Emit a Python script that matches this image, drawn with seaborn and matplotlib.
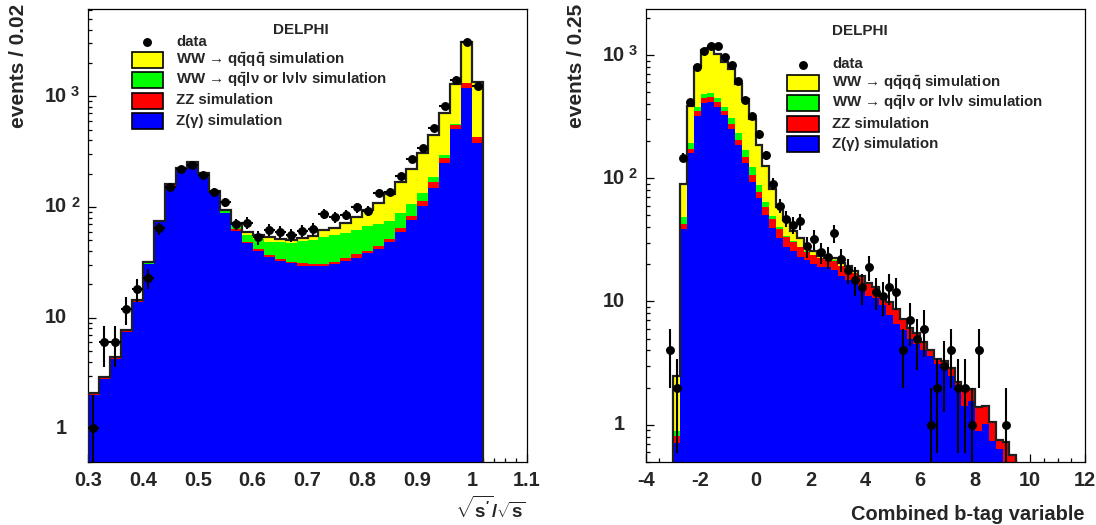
import numpy as np
import pandas as pd
import matplotlib
matplotlib.use("Agg")
import matplotlib.pyplot as plt
import matplotlib.transforms as mtransforms
from matplotlib.patches import Rectangle
from matplotlib.lines import Line2D
from matplotlib.ticker import MultipleLocator, FixedLocator, LogLocator, NullFormatter, FuncFormatter
import seaborn as sns

# ------------------------------------------------------------------
# Left panel: sqrt(s')/sqrt(s), bins of 0.02 starting at 0.30
# ------------------------------------------------------------------
left_start, left_width = 0.30, 0.02
left_data = [1, 6, 6, 12, 18, 23, 64, 152, 221, 240, 194, 137, 110, 70, 72, 53, 62, 60,
             56, 61, 63, 87, 81, 85, 99, 92, 134, 137, 190, 270, 343, 515, 818, 1400, 3070, 1245]
# upper edge of each stacked layer
left_top_zgamma = [2.0, 2.8, 4.25, 7.4, 13.8, 30.5, 73, 156, 219, 248, 197, 134, 87.5, 61, 47.5, 40,
                   35.5, 32.7, 30.9, 29.4, 29.4, 29.5, 30.3, 32.7, 34.8, 38.1, 41.7, 47.9, 59.7, 76.2,
                   102, 148, 248, 502, 1194, 380]
left_top_zz = [2.05, 2.84, 4.3, 7.5, 14.0, 30.8, 73.5, 157, 220, 249, 198, 135, 88.5, 62.7, 48.5, 41.5,
               36.8, 34.0, 32.0, 30.9, 30.3, 30.5, 31.5, 34.3, 37.3, 40.0, 44.6, 51, 64.1, 83.3,
               113, 167, 277, 550, 1325, 431]
left_top_ww_semi = [2.08, 2.87, 4.35, 7.6, 14.2, 31.2, 74, 158, 221, 250, 200, 138, 92, 71, 55.7, 51.5,
                    48.5, 47.9, 47.5, 49.0, 50.5, 53.5, 55.7, 57.8, 61.8, 67.2, 70.1, 75.1, 88.7, 106,
                    135, 186, 294, 557, 1325, 431]
left_top_total = [2.1, 2.9, 4.4, 7.7, 14.4, 31.6, 75, 160, 223, 253, 204, 140, 94, 72, 59, 56,
                  53, 51.3, 50.2, 52, 55, 61.8, 64.1, 71, 80.5, 93, 109, 131, 169, 219,
                  305, 446, 710, 1289, 3069, 1334]

# ------------------------------------------------------------------
# Right panel: combined b-tag variable, bins of 0.25
# ------------------------------------------------------------------
right_mc_start, right_data_start, right_width = -3.0, -3.25, 0.25
right_data = [4, 2, 147, 419, 806, 1080, 1190, 1190, 965, 834, 619, 435, 317, 229, 153, 90, 60, 47,
              42, 45, 28, 32, 25, 23, 36, 22, 18, 15, 13, 19, 12, 11, 13, 12, 4, 7, 5, 6, 1, 2, 3,
              4, 2, 2, 1, 4, 0, 0, 0, 1]
right_top_zgamma = [0.71, 38.9, 160, 321, 411, 419, 382, 323, 252, 187, 134, 94, 68.9, 50.5, 39.8, 32.7,
                    27.9, 25.5, 22.9, 21.8, 20.2, 19.2, 18.9, 18.1, 16.0, 15.0, 14.3, 13.2, 11.0, 10.7,
                    9.4, 7.8, 6.5, 5.9, 5.0, 4.5, 4.06, 3.6, 3.1, 2.9, 2.5, 1.98, 1.41, 1.55, 0.89,
                    1.02, 0.73, 0.63, 0.0, 0.0]
right_top_zz = [0.81, 42.7, 173, 348, 446, 455, 417, 352, 276, 205, 150, 107, 78, 58.6, 46.6, 38.7,
                33.3, 30.5, 27.8, 25.4, 23.8, 22.4, 21.7, 21.4, 19.4, 18.0, 16.9, 15.9, 14.0, 13.1,
                10.9, 9.8, 8.55, 7.15, 6.05, 5.45, 4.65, 4.02, 3.38, 3.28, 2.88, 2.19, 1.95, 1.95,
                1.37, 1.4, 1.04, 0.74, 0.72, 0.57]
right_top_ww_semi = [0.88, 48.3, 192, 380, 484, 490, 446, 382, 307, 232, 168, 123, 88.4, 64, 48.9, 40.3,
                     34.1, 30.7, 27.9, 25.5, 23.9, 22.5, 21.8, 21.5, 19.5, 18.1, 17.0, 15.95, 14.05, 13.15,
                     10.95, 9.85, 8.58, 7.18, 6.08, 5.48, 4.68, 4.04, 3.39, 3.29, 2.89, 2.2, 1.96, 1.96,
                     1.38, 1.41, 1.05, 0.75, 0.72, 0.57]
right_top_total = [2.46, 89.5, 387, 806, 1100, 1135, 1020, 885, 767, 579, 440, 300, 187, 126, 82, 58,
                   46, 37.4, 32.7, 27.9, 25.5, 23.5, 22.5, 22.5, 20.5, 19.5, 17.5, 16.0, 14.1, 13.2,
                   11.0, 9.9, 8.6, 7.2, 6.1, 5.5, 4.7, 4.06, 3.4, 3.3, 2.9, 2.2, 1.96, 1.96,
                   1.38, 1.41, 1.05, 0.75, 0.72, 0.57]

process_names = ["WW4q", "WWsemi", "ZZ", "Zgamma"]          # top -> bottom
process_colors = {"WW4q": "#ffff00", "WWsemi": "#00ff00", "ZZ": "#ff0000", "Zgamma": "#0000ff"}
legend_labels = [r"WW → q$\bar{\mathrm{q}}$q$\bar{\mathrm{q}}$ simulation",
                 r"WW → q$\bar{\mathrm{q}}$lν or lνlν simulation",
                 "ZZ simulation",
                 "Z(γ) simulation"]

# ------------------------------------------------------------------
sns.set_style("ticks")
plt.rcParams.update({
    "font.family": ["Liberation Sans", "DejaVu Sans"],
    "font.weight": "bold",
    "axes.unicode_minus": False,
    "mathtext.fontset": "custom",
    "mathtext.rm": "Liberation Sans:bold",
    "mathtext.bf": "Liberation Sans:bold",
    "mathtext.it": "Liberation Sans:italic:bold",
    "mathtext.sf": "Liberation Sans:bold",
    "mathtext.default": "regular",
    "axes.edgecolor": "black",
    "axes.linewidth": 0.9,
})

W, H = 1096, 525
fig = plt.figure(figsize=(W / 100, H / 100), dpi=100)


def fx(x):
    return x / W


def fy(y):
    return 1 - y / H


def stack_components(tops):
    arr = np.vstack([np.zeros(len(tops[0]))] + [np.asarray(t, float) for t in tops])
    return np.clip(np.diff(arr, axis=0), 0, None)  # bottom -> top


def draw_panel(ax, mc_start, width, tops, data_start, data, xlim, ylim):
    n = len(tops[0])
    edges = mc_start + width * np.arange(n + 1)
    centers = edges[:-1] + width / 2
    comps = stack_components(tops)  # Zgamma, ZZ, WWsemi, WW4q
    names_bottom_up = process_names[::-1]
    df = pd.concat([pd.DataFrame({"x": centers, "w": c, "process": nm})
                    for nm, c in zip(names_bottom_up, comps)], ignore_index=True)
    sns.histplot(data=df, x="x", weights="w", hue="process", hue_order=process_names,
                 bins=n, binrange=(float(edges[0]), float(edges[-1])),
                 multiple="stack", element="step", fill=True, alpha=1,
                 linewidth=0, palette=process_colors, legend=False, ax=ax)
    ax.set_yscale("log")
    ax.stairs(np.asarray(tops[-1]), edges, baseline=1e-3, color="#202020", lw=1.6, zorder=4)

    d = np.asarray(data, float)
    dx = data_start + width * (np.arange(len(d)) + 0.5)
    m = d > 0
    err = np.sqrt(d[m])
    lo = np.minimum(err, d[m] * 0.999)
    ax.errorbar(dx[m], d[m], xerr=width / 2, yerr=[lo, err], fmt="o", ms=5.4, color="black",
                ecolor="black", elinewidth=1.5, capsize=0, zorder=6)

    ax.set_xlim(*xlim)
    ax.set_ylim(*ylim)
    ax.set_xlabel("")
    ax.set_ylabel("")
    for s in ax.spines.values():
        s.set_visible(True)
        s.set_color("black")

    # y ticks (manual ROOT-like labels)
    ax.yaxis.set_major_locator(FixedLocator([1, 10, 100, 1000]))
    ax.yaxis.set_minor_locator(LogLocator(base=10, subs=np.arange(2, 10)))
    ax.yaxis.set_major_formatter(NullFormatter())
    ax.yaxis.set_minor_formatter(NullFormatter())
    trans = ax.get_yaxis_transform()
    for v, mant, expo in [(1, "1", None), (10, "10", None), (100, "10", "2"), (1000, "10", "3")]:
        tm = mtransforms.offset_copy(trans, fig=fig, x=-21, y=0, units="dots")
        ax.text(0, v, mant, transform=tm, ha="right", va="center", fontsize=14.4)
        if expo:
            te = mtransforms.offset_copy(trans, fig=fig, x=-17, y=11, units="dots")
            ax.text(0, v, expo, transform=te, ha="left", va="top", fontsize=10.5)

    ax.tick_params(axis="both", which="both", direction="in", top=False, right=False,
                   color="black", width=0.9)
    ax.tick_params(axis="both", which="major", length=6)
    ax.tick_params(axis="both", which="minor", length=3)
    ax.tick_params(axis="x", labelsize=14.4, pad=6.5)


# left axes: x 88..527 px, y 9.3..461.7 px
axL = fig.add_axes([fx(88), fy(461.7), 439 / W, 452.4 / H])
draw_panel(axL, left_start, left_width,
           [left_top_zgamma, left_top_zz, left_top_ww_semi, left_top_total],
           left_start, left_data, (0.3, 1.1), (0.5, 6100))
axL.xaxis.set_major_locator(MultipleLocator(0.1))
axL.xaxis.set_minor_locator(MultipleLocator(0.02))
axL.xaxis.set_major_formatter(FuncFormatter(lambda v, p: f"{round(v, 2):g}"))

axR = fig.add_axes([fx(645.7), fy(461.7), 439.3 / W, 452.4 / H])
draw_panel(axR, right_mc_start, right_width,
           [right_top_zgamma, right_top_zz, right_top_ww_semi, right_top_total],
           right_data_start, right_data, (-4, 12), (0.5, 2350))
axR.xaxis.set_major_locator(MultipleLocator(2))
axR.xaxis.set_minor_locator(MultipleLocator(0.5))
axR.xaxis.set_major_formatter(FuncFormatter(lambda v, p: f"{int(round(v))}"))

# axis titles
fig.text(fx(18.5), fy(4), "events / 0.02", rotation=90, ha="center", va="top", fontsize=15)
fig.text(fx(576.5), fy(4), "events / 0.25", rotation=90, ha="center", va="top", fontsize=15)
fig.text(fx(526), fy(522), r"$\sqrt{\mathrm{s'}}/\sqrt{\mathrm{s}}$", ha="right", va="bottom",
         fontsize=13.5)
fig.text(fx(1084), fy(515), "Combined b-tag variable", ha="right", va="center", fontsize=14.4)


def draw_legend(delphi_xy, marker_xy, text_x, box_x0, box_w, box_h, rows_y):
    fig.text(fx(delphi_xy[0]), fy(delphi_xy[1]), "DELPHI", ha="center", va="center", fontsize=11)
    fig.add_artist(Line2D([fx(marker_xy[0])], [fy(marker_xy[1])], marker="o", ms=5.4,
                          color="black", transform=fig.transFigure))
    fig.text(fx(text_x), fy(marker_xy[1]), "data", ha="left", va="center", fontsize=10.8)
    for yc, nm, lab in zip(rows_y, process_names, legend_labels):
        fig.add_artist(Rectangle((fx(box_x0), fy(yc + box_h / 2)), box_w / W, box_h / H,
                                 facecolor=process_colors[nm], edgecolor="black", lw=1.2,
                                 transform=fig.transFigure))
        fig.text(fx(text_x), fy(yc), lab, ha="left", va="center", fontsize=10.8)


draw_legend((301, 30), (147, 42), 176, 132, 31, 16, [60, 80, 100.5, 121])
draw_legend((859.5, 31), (802.7, 64.5), 832, 787, 32, 16, [83, 103.3, 123.8, 144])

fig.savefig("out.png", dpi=100)
